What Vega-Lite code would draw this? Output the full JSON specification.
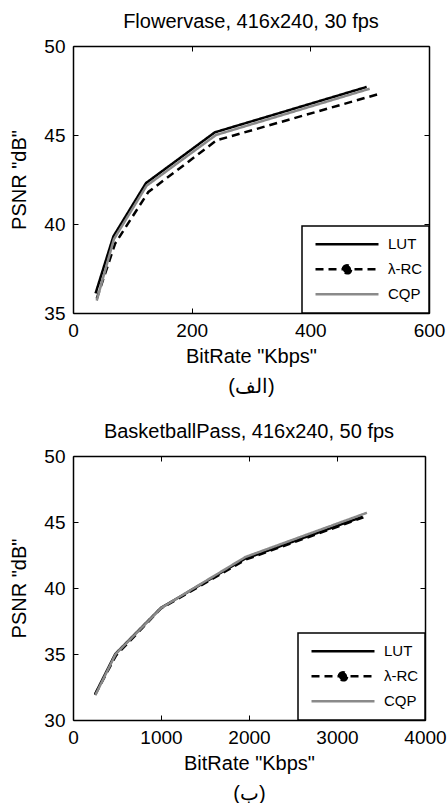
{
  "$schema": "https://vega.github.io/schema/vega-lite/v6.json",
  "padding": {"left": 9, "top": 12, "right": 0, "bottom": 0},
  "config": {
    "font": "Liberation Sans",
    "view": {"stroke": null},
    "axis": {
      "domainColor": "black", "domainWidth": 1.5, "tickColor": "black", "tickWidth": 1,
      "tickSize": -5, "labelColor": "black", "labelFontSize": 19, "labelPadding": 13,
      "titleColor": "black", "titleFontSize": 20, "titleFontWeight": "normal", "grid": false,
      "labelFlush": false, "labelOverlap": false, "format": "d"
    },
    "title": {"fontSize": 20, "fontWeight": "normal", "color": "black"},
    "legend": {
      "orient": "bottom-right", "offset": 0, "strokeColor": "black", "strokeWidth": 1.5,
      "fillColor": "white", "padding": 6, "symbolOffset": 6, "symbolType": "stroke", "symbolSize": 3969,
      "symbolStrokeWidth": 2.5, "clipHeight": 24.5, "labelFontSize": 15, "labelColor": "black",
      "labelOffset": 8, "rowPadding": 0, "title": null
    }
  },
  "datasets": {
    "flower": [
      {"series": "LUT", "bitrate": 38, "psnr": 36.1},
      {"series": "LUT", "bitrate": 68, "psnr": 39.3},
      {"series": "LUT", "bitrate": 123, "psnr": 42.3},
      {"series": "LUT", "bitrate": 239, "psnr": 45.15},
      {"series": "LUT", "bitrate": 495, "psnr": 47.7},
      {"series": "λ-RC", "bitrate": 40, "psnr": 35.8},
      {"series": "λ-RC", "bitrate": 71, "psnr": 38.9},
      {"series": "λ-RC", "bitrate": 127, "psnr": 41.8},
      {"series": "λ-RC", "bitrate": 242, "psnr": 44.7},
      {"series": "λ-RC", "bitrate": 515, "psnr": 47.3},
      {"series": "CQP", "bitrate": 40, "psnr": 35.7},
      {"series": "CQP", "bitrate": 69, "psnr": 39.15},
      {"series": "CQP", "bitrate": 124, "psnr": 42.15},
      {"series": "CQP", "bitrate": 241, "psnr": 45.0},
      {"series": "CQP", "bitrate": 500, "psnr": 47.6}
    ],
    "basket": [
      {"series": "LUT", "bitrate": 250, "psnr": 31.95},
      {"series": "LUT", "bitrate": 480, "psnr": 35.0},
      {"series": "LUT", "bitrate": 1000, "psnr": 38.5},
      {"series": "LUT", "bitrate": 1950, "psnr": 42.2},
      {"series": "LUT", "bitrate": 3290, "psnr": 45.4},
      {"series": "λ-RC", "bitrate": 250, "psnr": 31.9},
      {"series": "λ-RC", "bitrate": 490, "psnr": 34.9},
      {"series": "λ-RC", "bitrate": 1000, "psnr": 38.45},
      {"series": "λ-RC", "bitrate": 1960, "psnr": 42.15},
      {"series": "λ-RC", "bitrate": 3300, "psnr": 45.35},
      {"series": "CQP", "bitrate": 255, "psnr": 31.9},
      {"series": "CQP", "bitrate": 485, "psnr": 35.0},
      {"series": "CQP", "bitrate": 1005, "psnr": 38.5},
      {"series": "CQP", "bitrate": 1960, "psnr": 42.35},
      {"series": "CQP", "bitrate": 3340, "psnr": 45.7}
    ]
  },
  "resolve": {"legend": {"color": "independent", "strokeDash": "independent"}, "scale": {"color": "independent", "strokeDash": "independent"}},
  "vconcat": [
    {
      "width": 356, "height": 267,
      "title": {"text": "Flowervase, 416x240, 30 fps", "offset": 5},
      "data": {"name": "flower"},
      "layer": [
        {
          "mark": {"type": "line", "strokeWidth": 2.5},
          "encoding": {
            "x": {"field": "bitrate", "type": "quantitative", "scale": {"domain": [0, 600], "nice": false},
                  "axis": {"values": [0, 200, 400, 600], "title": ["BitRate \"Kbps\"", "(الف)"], "titleLineHeight": 30, "titlePadding": 6}},
            "y": {"field": "psnr", "type": "quantitative", "scale": {"domain": [35, 50], "nice": false, "zero": false},
                  "axis": {"values": [35, 40, 45, 50], "title": "PSNR \"dB\"", "titlePadding": 14}},
            "color": {"field": "series", "type": "nominal", "scale": {"domain": ["LUT", "λ-RC", "CQP"], "range": ["black", "black", "#8a8a8a"]},
                      "legend": {"encode": {"symbols": {"update": {
                        "shape": {"signal": "indexof(datum.value, 'RC') >= 0 ? 'M-1,0H1M-0.13,0A0.13,0.13,0,1,1,0.13,0A0.13,0.13,0,1,1,-0.13,0' : 'stroke'"},
                        "fill": {"signal": "indexof(datum.value, 'RC') >= 0 ? 'black' : 'transparent'"}}}}}},
            "strokeDash": {"field": "series", "type": "nominal", "scale": {"domain": ["LUT", "λ-RC", "CQP"], "range": [[1, 0], [8, 5], [1, 0]]}}
          }
        },
        {
          "mark": {"type": "line", "opacity": 0},
          "encoding": {
            "x": {"field": "bitrate", "type": "quantitative", "axis": {"orient": "top", "values": [0, 200, 400, 600], "labels": false, "title": null}},
            "y": {"field": "psnr", "type": "quantitative", "axis": {"orient": "right", "values": [35, 40, 45, 50], "labels": false, "title": null}},
            "detail": {"field": "series"}
          }
        }
      ],
      "resolve": {"axis": {"x": "independent", "y": "independent"}}
    },
    {
      "width": 352, "height": 264,
      "title": {"text": "BasketballPass, 416x240, 50 fps", "offset": 5},
      "data": {"name": "basket"},
      "layer": [
        {
          "mark": {"type": "line", "strokeWidth": 2.5},
          "encoding": {
            "x": {"field": "bitrate", "type": "quantitative", "scale": {"domain": [0, 4000], "nice": false},
                  "axis": {"values": [0, 1000, 2000, 3000, 4000], "title": ["BitRate \"Kbps\"", "(ب)"], "titleLineHeight": 30, "titlePadding": 6}},
            "y": {"field": "psnr", "type": "quantitative", "scale": {"domain": [30, 50], "nice": false, "zero": false},
                  "axis": {"values": [30, 35, 40, 45, 50], "title": "PSNR \"dB\"", "titlePadding": 14}},
            "color": {"field": "series", "type": "nominal", "scale": {"domain": ["LUT", "λ-RC", "CQP"], "range": ["black", "black", "#8a8a8a"]},
                      "legend": {"encode": {"symbols": {"update": {
                        "shape": {"signal": "indexof(datum.value, 'RC') >= 0 ? 'M-1,0H1M-0.13,0A0.13,0.13,0,1,1,0.13,0A0.13,0.13,0,1,1,-0.13,0' : 'stroke'"},
                        "fill": {"signal": "indexof(datum.value, 'RC') >= 0 ? 'black' : 'transparent'"}}}}}},
            "strokeDash": {"field": "series", "type": "nominal", "scale": {"domain": ["LUT", "λ-RC", "CQP"], "range": [[1, 0], [8, 5], [1, 0]]}}
          }
        },
        {
          "mark": {"type": "line", "opacity": 0},
          "encoding": {
            "x": {"field": "bitrate", "type": "quantitative", "axis": {"orient": "top", "values": [0, 1000, 2000, 3000, 4000], "labels": false, "title": null}},
            "y": {"field": "psnr", "type": "quantitative", "axis": {"orient": "right", "values": [30, 35, 40, 45, 50], "labels": false, "title": null}},
            "detail": {"field": "series"}
          }
        }
      ],
      "resolve": {"axis": {"x": "independent", "y": "independent"}}
    }
  ],
  "spacing": 26
}
